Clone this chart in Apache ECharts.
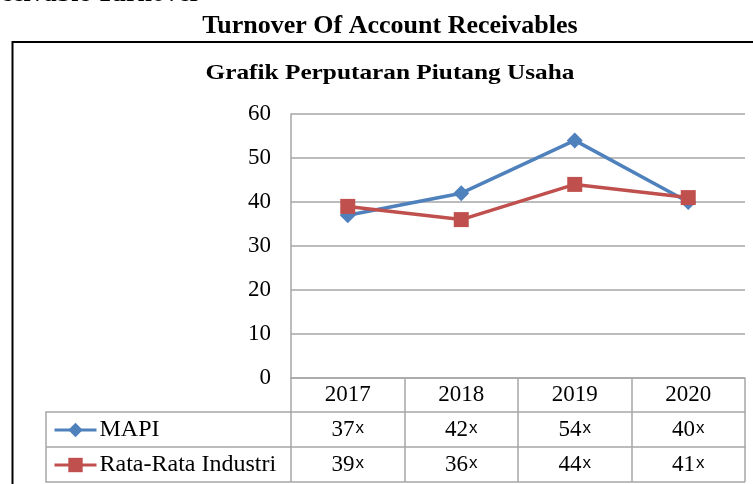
<!DOCTYPE html>
<html>
<head>
<meta charset="utf-8">
<script src="https://cdn.jsdelivr.net/npm/echarts@6/dist/echarts.min.js"></script>
<style>
html, body { margin: 0; padding: 0; background: #fff; }
#chart { width: 753px; height: 484px; }
</style>
</head>
<body>
<div id="chart"></div>
<script>
var years = ["2017", "2018", "2019", "2020"];
var mapi = [37, 42, 54, 40];
var industri = [39, 36, 44, 41];
var yTicks = [0, 10, 20, 30, 40, 50, 60];

var serif = "Liberation Serif";
var gridColor = "#a6a6a6";

// label formatter for the data table rows: value + small "x"
function fmtTimes(val) {
	return "{n|" + val + "}{x|x}";
}
var tableRich = {
	n : { fontFamily : serif, fontSize : 23, color : "#000" },
	x : { fontFamily : "Liberation Sans", fontSize : 17, color : "#000", padding : [0, 0, 2, 1] }
};

function legendItem(name, top) {
	return {
		data : [name],
		orient : "vertical",
		left : 53, top : top,
		padding : 0,
		itemWidth : 42, itemHeight : 18,
		lineStyle : { width : 3 },
		textStyle : { fontFamily : serif, fontSize : 24, color : "#000", padding : [0, 0, 0, -2] }
	};
}

var chart = echarts.init(document.getElementById('chart'));

var option = {
	animation : false,
	backgroundColor : "#fff",
	grid : { left : 291, right : 8, top : 114, bottom : 106 },
	legend : [ legendItem("MAPI", 418), legendItem("Rata-Rata Industri", 453) ],
	xAxis : [ {
		type : "category",
		data : years,
		axisLine : { lineStyle : { color : gridColor, width : 1.5 } },
		axisTick : { show : true, length : 34, lineStyle : { color : gridColor, width : 1.5 } },
		axisLabel : { fontFamily : serif, fontSize : 23, color : "#000", margin : 5 }
	}, {
		type : "category",
		data : mapi,
		position : "bottom",
		offset : 34,
		axisLine : { lineStyle : { color : gridColor, width : 1.5 } },
		axisTick : { show : true, length : 35, lineStyle : { color : gridColor, width : 1.5 } },
		axisLabel : { formatter : fmtTimes, rich : tableRich, margin : 6 }
	}, {
		type : "category",
		data : industri,
		position : "bottom",
		offset : 69,
		axisLine : { lineStyle : { color : gridColor, width : 1.5 } },
		axisTick : { show : true, length : 35, lineStyle : { color : gridColor, width : 1.5 } },
		axisLabel : { formatter : fmtTimes, rich : tableRich, margin : 6 }
	} ],
	yAxis : {
		type : "value",
		min : yTicks[0],
		max : yTicks[yTicks.length - 1],
		interval : 10,
		axisLine : { show : true, lineStyle : { color : gridColor, width : 1.5 } },
		axisTick : { show : false },
		splitLine : { lineStyle : { color : gridColor, width : 1.5 } },
		axisLabel : { fontFamily : serif, fontSize : 23, color : "#000", margin : 20 }
	},
	series : [ {
		name : "MAPI",
		type : "line",
		data : mapi,
		symbol : "diamond",
		symbolSize : 16,
		itemStyle : { color : "#4f81bd" },
		lineStyle : { color : "#4f81bd", width : 3.5 }
	}, {
		name : "Rata-Rata Industri",
		type : "line",
		data : industri,
		symbol : "rect",
		symbolSize : 15,
		itemStyle : { color : "#c0504d" },
		lineStyle : { color : "#c0504d", width : 3.5 }
	} ],
	graphic : [
		// cut-off heading at the very top
		{ type : "text", x : 201, y : 7,
		  style : { text : "Receivable Turnover", font : "bold 26px 'Liberation Serif'", fill : "#000", align : "right", verticalAlign : "bottom" } },
		{ type : "text", x : 390, y : 26,
		  style : { text : "Turnover Of Account Receivables", font : "bold 26px 'Liberation Serif'", fill : "#000", align : "center", verticalAlign : "middle" } },
		// outer chart frame
		{ type : "polyline", shape : { points : [[12.5, 484], [12.5, 42], [753, 42]] },
		  style : { stroke : "#000", lineWidth : 2, fill : null } },
		{ type : "text", x : 390, y : 73, scaleX : 1.15,
		  style : { text : "Grafik Perputaran Piutang Usaha", font : "bold 22px 'Liberation Serif'", fill : "#000", align : "center", verticalAlign : "middle" } },
		// left part of the data table
		{ type : "polyline", shape : { points : [[291, 412], [46, 412], [46, 482], [745, 482]] },
		  style : { stroke : gridColor, lineWidth : 1.5, fill : null } },
		{ type : "line", shape : { x1 : 46, y1 : 447, x2 : 291, y2 : 447 },
		  style : { stroke : gridColor, lineWidth : 1.5 } }
	]
};
chart.setOption(option);
</script>
</body>
</html>
